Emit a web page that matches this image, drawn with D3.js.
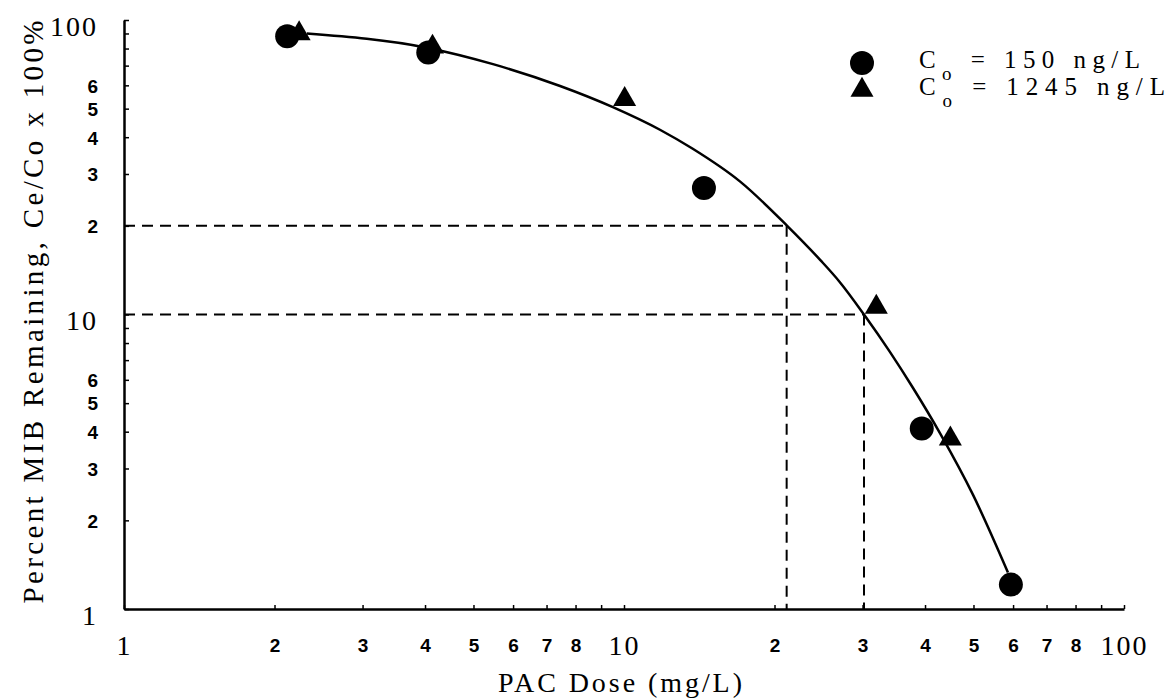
<!DOCTYPE html>
<html>
<script src="https://d3js.org/d3.v7.min.js"></script>
<style>
    body { margin: 0; background: #fff; }
    text { fill: #000; }
    .domain { stroke-width: 2.5px; }
    .tick line { stroke-width: 1.5px; }
</style>

<body>
</body>
<script>
    // data
    const co150 = [[2.12, 88], [4.06, 77.5], [14.45, 26.9], [39.4, 4.1], [59.4, 1.21]];
    const co1245 = [[2.24, 90], [4.14, 81], [10.03, 53.8], [31.96, 10.6], [44.95, 3.78]];
    const fitCurve = [[2.32, 89.9], [4.03, 80.5], [5.47, 70.8], [7.45, 59.7], [9.5, 50.6], [11.8, 42.4],
        [13.7, 36.6], [17.1, 28.2], [21.2, 20.0], [24.7, 15.3], [27, 12.9], [30.3, 9.92], [34, 7.48],
        [37.8, 5.65], [42.9, 3.94], [49.9, 2.44], [58.6, 1.33]];
    const guideX = [21.15, 30.2];
    const guideY = [20, 10];

    const xTicks = [1, 2, 3, 4, 5, 6, 7, 8, 9, 10, 20, 30, 40, 50, 60, 70, 80, 90, 100];
    const yTicks = [1, 2, 3, 4, 5, 6, 7, 8, 9, 10, 20, 30, 40, 50, 60, 70, 80, 90, 100];
    const majorTicks = [1, 10, 100];
    const xMinorLabels = [2, 3, 4, 5, 6, 7, 8, 20, 30, 40, 50, 60, 70, 80];
    const yMinorLabels = [2, 3, 4, 5, 6, 20, 30, 40, 50, 60];
    const legendLabels = [["150", "circle"], ["1245", "triangle"]];

    const width = 1166,
        height = 700;
    const serif = "'Liberation Serif', 'Times New Roman', serif";
    const narrow = "'Liberation Sans Narrow', 'Liberation Sans', sans-serif";
    const svg = d3.select("body").append("svg").attr("width", width).attr("height", height);

    const x = d3.scaleLog().domain([1, 100]).range([124, 1124]);
    const y = d3.scaleLog().domain([1, 100]).range([609, 20]);

    const digit = d => String(d).charAt(0);
    const isMajor = d => majorTicks.includes(d);

    // x axis
    const xAxis = svg.append("g")
        .attr("transform", `translate(0,${y(1)})`)
        .call(d3.axisBottom(x).tickValues(xTicks).tickSizeInner(-4).tickSizeOuter(0)
            .tickFormat(d => isMajor(d) ? String(d) : (xMinorLabels.includes(d) ? digit(d) : "")));
    xAxis.selectAll(".tick text")
        .attr("dy", null)
        .attr("y", d => isMajor(d) ? 46 : 43)
        .attr("font-family", d => isMajor(d) ? serif : narrow)
        .attr("font-weight", d => isMajor(d) ? "normal" : "bold")
        .attr("font-size", d => isMajor(d) ? 28 : 19)
        .attr("letter-spacing", d => isMajor(d) ? 2 : 0);

    // y axis
    const yAxis = svg.append("g")
        .attr("transform", `translate(${x(1)},0)`)
        .call(d3.axisLeft(y).tickValues(yTicks).tickSizeInner(-5).tickSizeOuter(0).tickPadding(26)
            .tickFormat(d => isMajor(d) ? String(d) : (yMinorLabels.includes(d) ? digit(d) : "")));
    yAxis.selectAll(".tick text")
        .attr("dy", d => isMajor(d) ? "0.55em" : "0.36em")
        .attr("font-family", d => isMajor(d) ? serif : narrow)
        .attr("font-weight", d => isMajor(d) ? "normal" : "bold")
        .attr("font-size", d => isMajor(d) ? 28 : 19)
        .attr("letter-spacing", d => isMajor(d) ? 2 : 0);
    svg.selectAll(".domain").attr("stroke", "#000");

    // dashed guide lines
    guideY.forEach((v, i) => {
        svg.append("line")
            .attr("x1", x(1)).attr("x2", x(guideX[i]))
            .attr("y1", y(v)).attr("y2", y(v))
            .attr("stroke", "#000").attr("stroke-width", 2).attr("stroke-dasharray", "11,7");
        svg.append("line")
            .attr("x1", x(guideX[i])).attr("x2", x(guideX[i]))
            .attr("y1", y(v)).attr("y2", y(1))
            .attr("stroke", "#000").attr("stroke-width", 2).attr("stroke-dasharray", "11,7");
    });

    // fitted curve
    svg.append("path")
        .datum(fitCurve)
        .attr("fill", "none")
        .attr("stroke", "black")
        .attr("stroke-width", 2.5)
        .attr("d", d3.line()
            .curve(d3.curveMonotoneX)
            .x(d => x(d[0]))
            .y(d => y(d[1]))
        );

    const tri = d3.symbol().type(d3.symbolTriangle).size(230);

    svg.selectAll("circle.pt")
        .data(co150)
        .join("circle")
        .attr("class", "pt")
        .attr("r", 12)
        .attr("fill", "black")
        .attr("cx", d => x(d[0]))
        .attr("cy", d => y(d[1]));

    svg.selectAll("path.tri")
        .data(co1245)
        .join("path")
        .attr("class", "tri")
        .attr("d", tri)
        .attr("fill", "black")
        .attr("transform", d => `translate(${x(d[0])},${y(d[1])})`);

    // legend
    const legend = svg.append("g").attr("transform", "translate(862,63)");
    legendLabels.forEach((l, i) => {
        const row = legend.append("g").attr("transform", `translate(0,${i * 27})`);
        if (l[1] === "circle") row.append("circle").attr("r", 12).attr("fill", "black");
        else row.append("path").attr("d", tri).attr("fill", "black");
        const t = row.append("text")
            .attr("x", 57).attr("y", 5)
            .attr("font-family", serif)
            .attr("font-size", 25)
            .attr("textLength", i === 0 ? 221 : 246)
            .attr("lengthAdjust", "spacing");
        t.append("tspan").text("C");
        t.append("tspan").attr("dy", 12).attr("font-size", 19).text("o");
        t.append("tspan").attr("dy", -12).text(` = ${l[0]} ng/L`);
    });

    // axis titles
    svg.append("text")
        .attr("x", 620)
        .attr("y", 692)
        .attr("text-anchor", "middle")
        .attr("font-family", serif)
        .attr("font-size", 28)
        .attr("textLength", 244)
        .attr("lengthAdjust", "spacing")
        .text("PAC Dose (mg/L)");
    svg.append("text")
        .attr("transform", "translate(43,312) rotate(-90)")
        .attr("text-anchor", "middle")
        .attr("font-family", serif)
        .attr("font-size", 29)
        .attr("textLength", 583)
        .attr("lengthAdjust", "spacing")
        .text("Percent MIB Remaining, Ce/Co x 100%");
</script>

</html>
